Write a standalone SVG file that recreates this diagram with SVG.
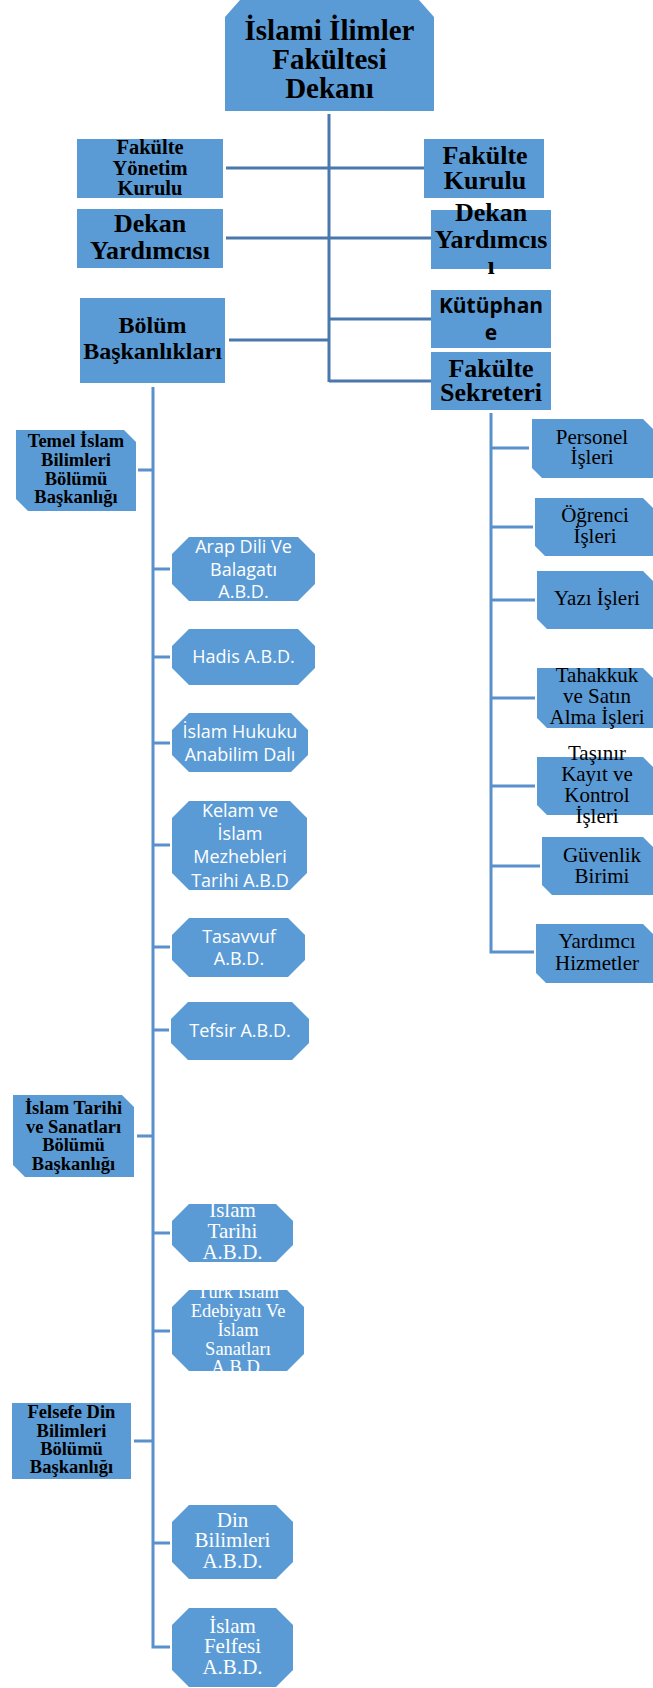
<svg xmlns="http://www.w3.org/2000/svg" width="653" height="1688" viewBox="0 0 653 1688">
<style>
.box{fill:#5b9bd5;}
.c1{stroke:#4a78ad;stroke-width:3;fill:none;}
.c2{stroke:#5a90cb;stroke-width:3;fill:none;}
.tb{font-family:"Liberation Serif",serif;font-weight:bold;fill:#000;text-anchor:middle;}
.tr{font-family:"Liberation Serif",serif;fill:#000;text-anchor:middle;font-size:21px;}
.tw{font-family:"Liberation Serif",serif;fill:#fff;text-anchor:middle;font-size:21px;}
.ts{font-family:"Open Sans",sans-serif;fill:#fff;text-anchor:middle;font-size:18px;}
.tk{font-family:"Open Sans",sans-serif;font-weight:bold;fill:#000;text-anchor:middle;font-size:21px;}
</style>
<rect width="653" height="1688" fill="#fff"/>
<g id="connectors">
<path class="c1" d="M329,114V382M226,168H424M226,238H431M329,319H431M329,381H431M229,340H329"/>
<path class="c2" d="M153,387V1647H170M138,470H153M153,569H170M153,657H170M153,743H170M153,845H170M153,947H170M153,1030H169M137,1136H153M153,1233H170M153,1331H170M134,1441H153M153,1543H170"/>
<path class="c2" d="M491,413V952H534M491,448H529M491,527H533M491,600H535M491,698H535M491,786H535M491,866H540"/>
</g>
<g id="dekan">
<polygon class="box" points="240,0 419,0 434,17 434,111 225,111 225,17"/>
<text class="tb" font-size="29" x="329.5"><tspan x="329.5" y="40">İslami İlimler</tspan><tspan x="329.5" y="69">Fakültesi</tspan><tspan x="329.5" y="98">Dekanı</tspan></text>
</g>
<g id="yonetim">
<rect class="box" x="77" y="139" width="146" height="59"/>
<text class="tb" font-size="20.5"><tspan x="150" y="154">Fakülte</tspan><tspan x="150" y="175">Yönetim</tspan><tspan x="150" y="195">Kurulu</tspan></text>
</g>
<g id="kurul">
<rect class="box" x="424" y="139" width="120" height="59"/>
<text class="tb" font-size="26"><tspan x="485" y="164">Fakülte</tspan><tspan x="485" y="189">Kurulu</tspan></text>
</g>
<g id="dy1">
<rect class="box" x="77" y="209" width="146" height="59"/>
<text class="tb" font-size="26"><tspan x="150" y="232">Dekan</tspan><tspan x="150" y="259">Yardımcısı</tspan></text>
</g>
<g id="dy2">
<rect class="box" x="431" y="210" width="120" height="59"/>
<text class="tb" font-size="26"><tspan x="491" y="221">Dekan</tspan><tspan x="491" y="248">Yardımcıs</tspan><tspan x="491" y="274">ı</tspan></text>
</g>
<g id="kutuphane">
<rect class="box" x="431" y="290" width="120" height="58"/>
<text class="tk"><tspan x="491" y="313">Kütüphan</tspan><tspan x="491" y="340">e</tspan></text>
</g>
<g id="sekreter">
<rect class="box" x="431" y="352" width="120" height="58"/>
<text class="tb" font-size="26"><tspan x="491" y="377">Fakülte</tspan><tspan x="491" y="401">Sekreteri</tspan></text>
</g>
<g id="bolum">
<rect class="box" x="80" y="298" width="145" height="85"/>
<text class="tb" font-size="24"><tspan x="152.5" y="333">Bölüm</tspan><tspan x="152.5" y="359">Başkanlıkları</tspan></text>
</g>
<g id="temel">
<polygon class="box" points="16,430 124,430 136,442 136,511 28,511 16,499"/>
<text class="tb" font-size="18.5"><tspan x="76" y="447">Temel İslam</tspan><tspan x="76" y="466">Bilimleri</tspan><tspan x="76" y="485">Bölümü</tspan><tspan x="76" y="503">Başkanlığı</tspan></text>
</g>
<g id="arap">
<polygon class="box" points="189,537 298,537 315,554 315,584 298,601 189,601 172,584 172,554"/>
<text class="ts"><tspan x="243.5" y="553">Arap Dili Ve</tspan><tspan x="243.5" y="576">Balagatı</tspan><tspan x="243.5" y="598">A.B.D.</tspan></text>
</g>
<g id="hadis">
<polygon class="box" points="189,629 298,629 315,646 315,668 298,685 189,685 172,668 172,646"/>
<text class="ts" x="243.5" y="663">Hadis A.B.D.</text>
</g>
<g id="hukuk">
<polygon class="box" points="189,713 291,713 308,730 308,755 291,772 189,772 172,755 172,730"/>
<text class="ts"><tspan x="240" y="738">İslam Hukuku</tspan><tspan x="240" y="761">Anabilim Dalı</tspan></text>
</g>
<g id="kelam">
<polygon class="box" points="189,801 290,801 307,818 307,873 290,890 189,890 172,873 172,818"/>
<text class="ts"><tspan x="240" y="817">Kelam ve</tspan><tspan x="240" y="840">İslam</tspan><tspan x="240" y="863">Mezhebleri</tspan><tspan x="240" y="887">Tarihi A.B.D</tspan></text>
</g>
<g id="tasavvuf">
<polygon class="box" points="189,918 288,918 305,935 305,960 288,977 189,977 172,960 172,935"/>
<text class="ts"><tspan x="239" y="943">Tasavvuf</tspan><tspan x="239" y="965">A.B.D.</tspan></text>
</g>
<g id="tefsir">
<polygon class="box" points="188,1002 292,1002 309,1019 309,1043 292,1060 188,1060 171,1043 171,1019"/>
<text class="ts" x="240" y="1037">Tefsir A.B.D.</text>
</g>
<g id="tarihbolum">
<polygon class="box" points="13,1095 122,1095 134,1107 134,1177 25,1177 13,1165"/>
<text class="tb" font-size="18.5"><tspan x="73.5" y="1114">İslam Tarihi</tspan><tspan x="73.5" y="1133">ve Sanatları</tspan><tspan x="73.5" y="1151">Bölümü</tspan><tspan x="73.5" y="1170">Başkanlığı</tspan></text>
</g>
<g id="tarihabd">
<polygon class="box" points="189,1204 276,1204 293,1221 293,1245 276,1262 189,1262 172,1245 172,1221"/>
<text class="tw"><tspan x="232.5" y="1217">İslam</tspan><tspan x="232.5" y="1238">Tarihi</tspan><tspan x="232.5" y="1259">A.B.D.</tspan></text>
</g>
<g id="turk">
<polygon class="box" points="189,1290 287,1290 304,1307 304,1354 287,1371 189,1371 172,1354 172,1307"/>
<text class="tw" font-size="18.5" style="font-size:18.5px"><tspan x="238" y="1298">Türk İslam</tspan><tspan x="238" y="1317">Edebiyatı Ve</tspan><tspan x="238" y="1336">İslam</tspan><tspan x="238" y="1355">Sanatları</tspan><tspan x="238" y="1373">A.B.D.</tspan></text>
</g>
<g id="felsefe">
<rect class="box" x="12" y="1403" width="119" height="76"/>
<text class="tb" font-size="18.5"><tspan x="71.5" y="1418">Felsefe Din</tspan><tspan x="71.5" y="1437">Bilimleri</tspan><tspan x="71.5" y="1455">Bölümü</tspan><tspan x="71.5" y="1473">Başkanlığı</tspan></text>
</g>
<g id="din">
<polygon class="box" points="189,1505 276,1505 293,1522 293,1562 276,1579 189,1579 172,1562 172,1522"/>
<text class="tw"><tspan x="232.5" y="1527">Din</tspan><tspan x="232.5" y="1547">Bilimleri</tspan><tspan x="232.5" y="1568">A.B.D.</tspan></text>
</g>
<g id="felfesi">
<polygon class="box" points="189,1608 276,1608 293,1625 293,1670 276,1687 189,1687 172,1670 172,1625"/>
<text class="tw"><tspan x="232.5" y="1633">İslam</tspan><tspan x="232.5" y="1653">Felfesi</tspan><tspan x="232.5" y="1674">A.B.D.</tspan></text>
</g>
<g id="personel">
<polygon class="box" points="532,419 643,419 653,429 653,478 542,478 532,468"/>
<text class="tr"><tspan x="592" y="444">Personel</tspan><tspan x="592" y="464">İşleri</tspan></text>
</g>
<g id="ogrenci">
<polygon class="box" points="535,498 643,498 653,508 653,556 545,556 535,546"/>
<text class="tr"><tspan x="595" y="522">Öğrenci</tspan><tspan x="595" y="543">İşleri</tspan></text>
</g>
<g id="yazi">
<polygon class="box" points="537,571 643,571 653,581 653,629 547,629 537,619"/>
<text class="tr" x="597" y="605">Yazı İşleri</text>
</g>
<g id="tahakkuk">
<polygon class="box" points="537,668 643,668 653,678 653,728 547,728 537,718"/>
<text class="tr"><tspan x="597" y="682">Tahakkuk</tspan><tspan x="597" y="703">ve Satın</tspan><tspan x="597" y="724">Alma İşleri</tspan></text>
</g>
<g id="tasinir">
<polygon class="box" points="537,757 643,757 653,767 653,815 547,815 537,805"/>
<text class="tr"><tspan x="597" y="760">Taşınır</tspan><tspan x="597" y="781">Kayıt ve</tspan><tspan x="597" y="802">Kontrol</tspan><tspan x="597" y="823">İşleri</tspan></text>
</g>
<g id="guvenlik">
<polygon class="box" points="542,837 643,837 653,847 653,895 552,895 542,885"/>
<text class="tr"><tspan x="602" y="862">Güvenlik</tspan><tspan x="602" y="883">Birimi</tspan></text>
</g>
<g id="yardimci">
<polygon class="box" points="536,924 643,924 653,934 653,983 546,983 536,973"/>
<text class="tr"><tspan x="597" y="948">Yardımcı</tspan><tspan x="597" y="970">Hizmetler</tspan></text>
</g>
</svg>
